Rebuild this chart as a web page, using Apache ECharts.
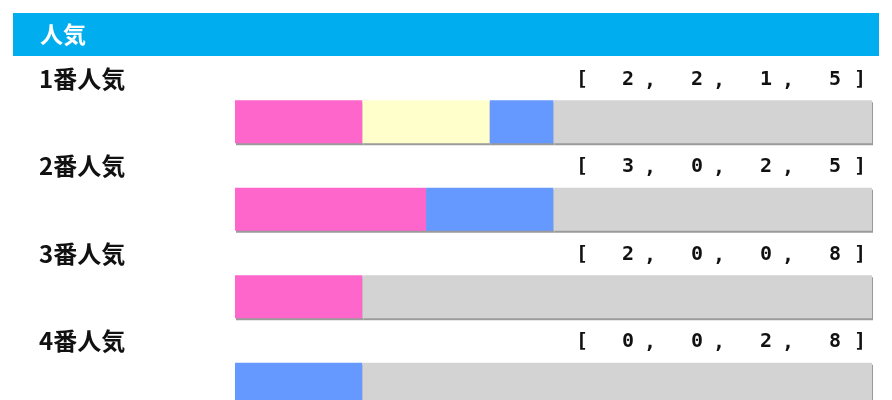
<!DOCTYPE html>
<html>
<head>
<meta charset="utf-8">
<script src="https://cdn.jsdelivr.net/npm/echarts@6/dist/echarts.min.js"></script>
<style>
  html, body { margin: 0; padding: 0; background: #fff; }
  #chart { width: 892px; height: 400px; }
</style>
</head>
<body>
<div id="chart"></div>
<script>
// 人気別の成績 [1着, 2着, 3着, 着外]
const title = '人気';
const categories = ['1番人気', '2番人気', '3番人気', '4番人気'];
const first = [2, 3, 2, 0];
const second = [2, 0, 0, 0];
const third = [1, 2, 0, 2];
const others = [5, 5, 8, 8];

const COLORS = ['#FF66CC', '#FFFFCC', '#6699FF', '#D3D3D3'];
const BAR_H = 43;

const chart = echarts.init(document.getElementById('chart'));

function barSeries(name, data, color) {
  return {
    name: name,
    type: 'bar',
    stack: 'total',
    data: data,
    barWidth: BAR_H,
    silent: true,
    itemStyle: {
      color: color,
      shadowColor: '#9a9a9a',
      shadowOffsetX: 1,
      shadowOffsetY: 2,
      shadowBlur: 0
    }
  };
}

chart.setOption({
  animation: false,
  grid: { left: 235, right: 20, top: 78, bottom: -28, containLabel: false, outerBoundsMode: 'none' },
  xAxis: { type: 'value', min: 0, max: 10, show: false },
  yAxis: { type: 'category', data: categories, inverse: true, show: false },
  series: [
    barSeries('1着', first, COLORS[0]),
    barSeries('2着', second, COLORS[1]),
    barSeries('3着', third, COLORS[2]),
    barSeries('着外', others, COLORS[3])
  ]
});

// header + row labels
const graphics = [
  { type: 'rect', shape: { x: 13, y: 13, width: 866, height: 43 }, style: { fill: '#00AEEF' } },
  { type: 'text', x: 40, y: 34, style: { text: title, fill: '#fff', font: 'bold 23px "Noto Sans CJK JP"', verticalAlign: 'middle' } }
];

categories.forEach(function (cat, i) {
  const cy = chart.convertToPixel({ yAxisIndex: 0 }, cat);
  const ty = cy - 43;
  graphics.push({
    type: 'text', x: 39, y: ty,
    style: { text: cat, fill: '#111', font: 'bold 24px "Noto Sans CJK JP"', verticalAlign: 'middle' }
  });
  const vals = [first[i], second[i], third[i], others[i]];
  const numFont = 'bold 20px "DejaVu Sans Mono"';
  const tStyle = function (t) {
    return { text: t, fill: '#111', font: numFont, align: 'center', verticalAlign: 'middle' };
  };
  graphics.push({ type: 'text', x: 582, y: ty + 1, style: tStyle('[') });
  vals.forEach(function (v, j) {
    const cx = 628 + j * 69;
    graphics.push({ type: 'text', x: cx, y: ty + 1, style: tStyle(String(v)) });
    if (j < vals.length - 1) {
      graphics.push({ type: 'text', x: cx + 22, y: ty + 2, style: tStyle(',') });
    }
  });
  graphics.push({ type: 'text', x: 860, y: ty + 1, style: tStyle(']') });
});

chart.setOption({ graphic: graphics });
</script>
</body>
</html>
